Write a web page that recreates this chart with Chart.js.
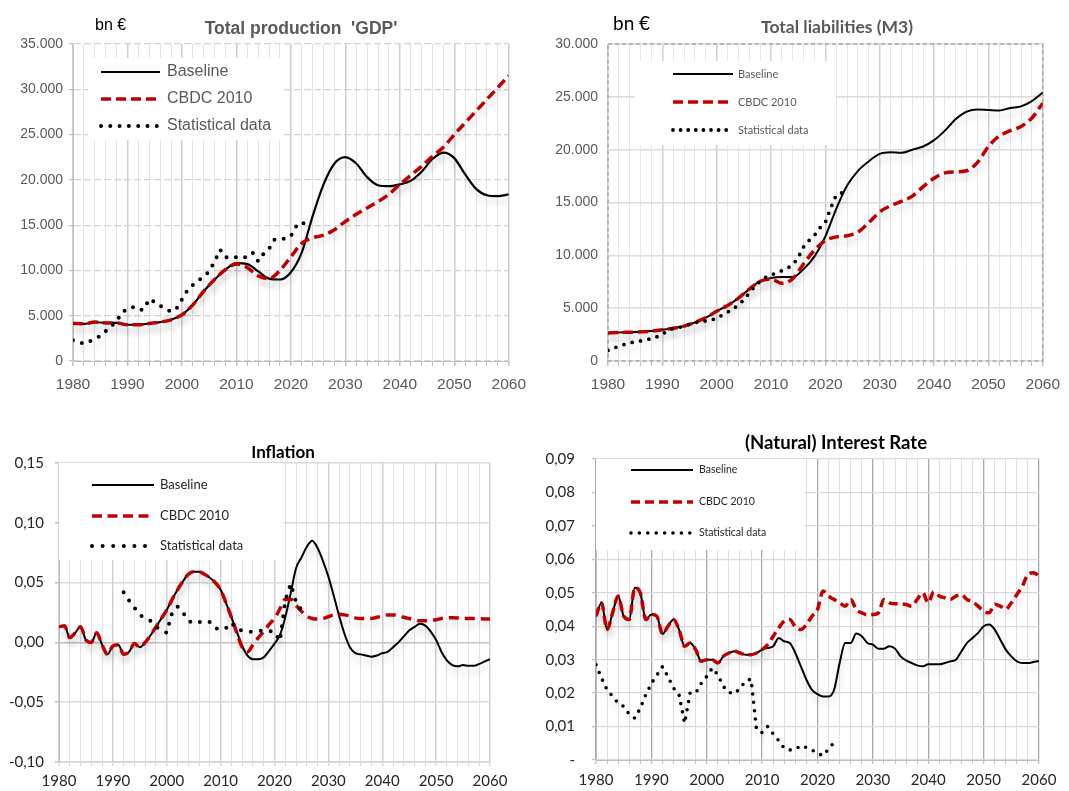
<!DOCTYPE html>
<html>
<head>
<meta charset="utf-8">
<title>CBDC scenarios</title>
<script src="https://cdn.jsdelivr.net/npm/chart.js@4.4.1/dist/chart.umd.min.js"></script>
<style>
  html, body { margin: 0; padding: 0; background: #fff; }
  body { position: relative; width: 1069px; height: 791px; overflow: hidden; }
  canvas { position: absolute; }
</style>
</head>
<body>
<canvas id="gdp" width="535" height="400" style="left:0;top:0"></canvas>
<canvas id="m3" width="534" height="400" style="left:535px;top:0"></canvas>
<canvas id="infl" width="535" height="361" style="left:0;top:430px"></canvas>
<canvas id="rate" width="534" height="361" style="left:535px;top:430px"></canvas>
<script>
function range(a, b, step) {
  const out = [];
  for (let v = a; v <= b; v += step) out.push(v);
  return out;
}

// x values for the model runs and the observed series
const yearsBy2 = range(1980, 2060, 2);
const yearsBy1 = range(1980, 2060, 1);

const seriesNames = ['Baseline', 'CBDC 2010', 'Statistical data'];

// Total production (GDP), bn €, every second year
const gdpBaseline = [4150, 4100, 4300, 4200, 4200, 4000, 4000, 4150, 4300, 4550,
  5100, 6200, 7700, 9000, 10100, 10800, 10700, 9900, 9100, 9000,
  9800, 12000, 16000, 19500, 21800, 22500, 21800, 20300, 19400, 19300,
  19500, 19900, 20900, 22300, 23000, 22400, 20600, 19000, 18300, 18200, 18400];
const gdpCbdc = [4150, 4100, 4300, 4200, 4200, 4000, 4000, 4150, 4300, 4550,
  5100, 6200, 7700, 9000, 10100, 10700, 10300, 9400, 9100, 10000,
  11500, 13000, 13600, 13900, 14500, 15400, 16200, 16900, 17600, 18400,
  19500, 20500, 21500, 22600, 23600, 25000, 26300, 27600, 28900, 30200, 31500];
const gdpStatYears = range(1980, 2023, 1);
const gdpStats = [2300, 2100, 1900, 2150, 2500, 2750, 3300, 3850, 4400, 5350,
  5800, 5950, 5620, 5700, 6840, 6500, 6100, 5700, 5450, 5800,
  6800, 7800, 8400, 8900, 9300, 9900, 11000, 12280, 11450, 11450,
  11470, 11400, 11500, 11950, 11000, 11850, 12400, 13400, 13500, 13500,
  13800, 14890, 14890, 15900];

// Total liabilities (M3), bn €, every second year
const m3Baseline = [2650, 2700, 2720, 2760, 2830, 2950, 3100, 3300, 3650, 4100,
  4700, 5250, 5950, 6800, 7550, 7850, 7950, 7950, 8700, 9900,
  11800, 14400, 16600, 18000, 18900, 19600, 19750, 19700, 20000, 20300,
  20900, 21800, 22900, 23600, 23800, 23750, 23700, 23950, 24100, 24600, 25400];
const m3Cbdc = [2650, 2700, 2720, 2760, 2830, 2950, 3100, 3300, 3650, 4100,
  4700, 5250, 5950, 6800, 7550, 7750, 7350, 7800, 9200, 10500,
  11400, 11750, 11850, 12200, 13100, 14100, 14700, 15100, 15600, 16500,
  17300, 17800, 17900, 18000, 18800, 20300, 21300, 21800, 22200, 23000, 24400];
const m3StatYears = range(1980, 2024, 1);
const m3Stats = [1000, 1200, 1400, 1560, 1700, 1830, 1900, 2000, 2120, 2300,
  2550, 2850, 3080, 3170, 3300, 3480, 3620, 3740, 3780, 3900,
  4020, 4350, 4620, 4920, 5300, 5800, 6450, 7050, 7550, 7900,
  8150, 8330, 8550, 8780, 9100, 9800, 10800, 11400, 11900, 12600,
  13130, 14500, 15700, 15900, 16100];

// Inflation, yearly
const inflBaseline = [0.013, 0.014, 0.004, 0.008, 0.013, 0.002, 0.000, 0.008, -0.002, -0.010,
  -0.003, -0.002, -0.010, -0.008, -0.001, -0.004, 0.000, 0.006, 0.013, 0.020,
  0.027, 0.036, 0.044, 0.051, 0.057, 0.059, 0.059, 0.057, 0.054, 0.050,
  0.044, 0.033, 0.021, 0.009, -0.003, -0.011, -0.014, -0.014, -0.0125, -0.007,
  -0.001, 0.006, 0.021, 0.041, 0.062, 0.071, 0.080, 0.085, 0.079, 0.068,
  0.055, 0.039, 0.022, 0.007, -0.004, -0.009, -0.010, -0.011, -0.012, -0.011,
  -0.009, -0.008, -0.004, 0.000, 0.005, 0.010, 0.013, 0.0155, 0.014, 0.009,
  0.002, -0.008, -0.015, -0.019, -0.020, -0.019, -0.0195, -0.0195, -0.018, -0.016,
  -0.014];
const inflCbdc = [0.013, 0.014, 0.004, 0.008, 0.013, 0.002, 0.000, 0.008, -0.002, -0.010,
  -0.003, -0.002, -0.010, -0.008, -0.001, -0.004, 0.000, 0.006, 0.013, 0.020,
  0.027, 0.036, 0.044, 0.051, 0.057, 0.059, 0.059, 0.057, 0.054, 0.050,
  0.044, 0.033, 0.021, 0.008, -0.004, -0.008, -0.002, 0.004, 0.009, 0.015,
  0.020, 0.028, 0.036, 0.036, 0.031, 0.026, 0.022, 0.020, 0.0195, 0.020,
  0.0215, 0.023, 0.0235, 0.023, 0.022, 0.0205, 0.020, 0.020, 0.020, 0.021,
  0.022, 0.023, 0.023, 0.0225, 0.021, 0.020, 0.019, 0.018, 0.018, 0.0185,
  0.019, 0.020, 0.0205, 0.0207, 0.0205, 0.020, 0.020, 0.020, 0.0198, 0.0196,
  0.0195];
const inflStatYears = range(1992, 2025, 1);
const inflStats = [0.042, 0.035, 0.029, 0.023, 0.020, 0.018, 0.013, 0.010, 0.008, 0.025,
  0.030, 0.025, 0.018, 0.016, 0.017, 0.018, 0.017, 0.012, 0.0105, 0.012,
  0.0165, 0.011, 0.010, 0.009, 0.009, 0.0095, 0.010, 0.0095, 0.009, 0.001,
  0.035, 0.049, 0.034, 0.027];

// (Natural) interest rate, yearly
const rateBaseline = [0.043, 0.047, 0.039, 0.044, 0.049, 0.043, 0.042, 0.0515, 0.050, 0.042,
  0.0435, 0.043, 0.0377, 0.040, 0.042, 0.039, 0.034, 0.035, 0.033, 0.0295,
  0.030, 0.030, 0.029, 0.031, 0.032, 0.0325, 0.032, 0.0315, 0.0315, 0.032,
  0.033, 0.0335, 0.034, 0.0365, 0.0355, 0.035, 0.032, 0.028, 0.024, 0.021,
  0.0197, 0.019, 0.019, 0.021, 0.029, 0.035, 0.035, 0.0378, 0.037, 0.035,
  0.0345, 0.0333, 0.0333, 0.034, 0.0333, 0.031, 0.0298, 0.029, 0.0283, 0.028,
  0.0286, 0.0286, 0.0286, 0.029, 0.0295, 0.030, 0.0325, 0.035, 0.0365, 0.038,
  0.040, 0.0405, 0.039, 0.036, 0.033, 0.031, 0.0295, 0.029, 0.029, 0.0293,
  0.0296];
const rateCbdc = [0.043, 0.047, 0.039, 0.044, 0.049, 0.043, 0.042, 0.0515, 0.050, 0.042,
  0.0435, 0.043, 0.0377, 0.040, 0.042, 0.039, 0.034, 0.035, 0.033, 0.0295,
  0.030, 0.030, 0.029, 0.031, 0.032, 0.0325, 0.032, 0.0315, 0.0315, 0.032,
  0.033, 0.0345, 0.037, 0.0395, 0.0415, 0.042, 0.0398, 0.039, 0.0405, 0.043,
  0.045, 0.0505, 0.049, 0.048, 0.047, 0.046, 0.048, 0.045, 0.044, 0.0434,
  0.0435, 0.044, 0.048, 0.047, 0.0467, 0.0467, 0.0465, 0.046, 0.048, 0.050,
  0.047, 0.0503, 0.049, 0.0485, 0.048, 0.049, 0.0494, 0.048, 0.0473, 0.046,
  0.0445, 0.044, 0.0466, 0.046, 0.0451, 0.047, 0.0495, 0.052, 0.0555, 0.056,
  0.055];
const rateStatYears = range(1980, 2023, 1);
const rateStats = [0.0285, 0.0245, 0.021, 0.019, 0.017, 0.016, 0.0137, 0.0125, 0.0155, 0.0195,
  0.0229, 0.0254, 0.0279, 0.0249, 0.0215, 0.0195, 0.011, 0.020, 0.020, 0.0229,
  0.025, 0.0275, 0.0255, 0.022, 0.0202, 0.0198, 0.0214, 0.0236, 0.0242, 0.009,
  0.0082, 0.0100, 0.0078, 0.0058, 0.0035, 0.0030, 0.0032, 0.0043, 0.0037, 0.0030,
  0.0020, 0.0013, 0.0033, 0.0053];

const red = '#c00000';
const narrow = "'Liberation Sans', Arial, sans-serif";
const calib = "Lato, 'Open Sans', sans-serif";

function pts(xs, ys) {
  return ys.map((y, i) => ({ x: xs[i], y: y }));
}

// white legend box with line samples, drawn over the grid
const boxLegend = {
  id: 'boxLegend',
  beforeDatasetsDraw(chart, args, o) {
    if (!o || !o.box) return;
    const ctx = chart.ctx;
    ctx.save();
    ctx.fillStyle = '#fff';
    ctx.fillRect(o.box[0], o.box[1], o.box[2], o.box[3]);
    chart.data.datasets.forEach((ds, i) => {
      const y = o.rows[i];
      ctx.beginPath();
      ctx.lineWidth = ds.borderWidth;
      ctx.strokeStyle = ds.borderColor;
      ctx.setLineDash(o.dashes[i]);
      ctx.lineCap = ds.borderCapStyle || 'butt';
      ctx.moveTo(o.x1, y);
      ctx.lineTo(o.x2, y);
      ctx.stroke();
      ctx.setLineDash([]);
      ctx.fillStyle = o.color;
      ctx.font = o.font;
      ctx.textAlign = 'left';
      ctx.textBaseline = 'middle';
      ctx.fillText(ds.label, o.textX, y);
    });
    ctx.restore();
  }
};

// titles and unit labels
const panelText = {
  id: 'panelText',
  afterDraw(chart, args, o) {
    if (!o || !o.items) return;
    const ctx = chart.ctx;
    ctx.save();
    o.items.forEach(t => {
      ctx.font = t.font;
      ctx.fillStyle = t.color;
      ctx.textAlign = t.align || 'center';
      ctx.textBaseline = 'middle';
      ctx.fillText(t.text, t.x, t.y);
    });
    ctx.restore();
  }
};

// dashed frame round the plot area
const frame = {
  id: 'frame',
  beforeDatasetsDraw(chart, args, o) {
    if (!o || !o.color) return;
    const a = chart.chartArea, ctx = chart.ctx;
    ctx.save();
    ctx.strokeStyle = o.color;
    ctx.lineWidth = o.width;
    ctx.setLineDash(o.dash);
    ctx.strokeRect(a.left, a.top, a.right - a.left, a.bottom - a.top);
    ctx.restore();
  }
};

// soft drop shadow under each series
const softShadow = {
  id: 'softShadow',
  beforeDatasetDraw(chart, args, o) {
    const ctx = chart.ctx;
    ctx.save();
    ctx.shadowColor = o.color || 'rgba(0,0,0,0.2)';
    ctx.shadowBlur = o.blur || 6;
    ctx.shadowOffsetX = o.dx || 0;
    ctx.shadowOffsetY = o.dy || 5;
  },
  afterDatasetDraw(chart) {
    chart.ctx.restore();
  }
};

Chart.register(boxLegend, panelText, frame, softShadow);

function datasets(xModel, base, cbdc, xStat, stats, w) {
  const common = { pointRadius: 0, pointHoverRadius: 0, fill: false };
  return [
    Object.assign({ label: seriesNames[0], data: pts(xModel, base), borderColor: '#000',
      borderWidth: w.base, cubicInterpolationMode: 'monotone', order: 2 }, common),
    Object.assign({ label: seriesNames[1], data: pts(xModel, cbdc), borderColor: red,
      borderWidth: w.red, borderDash: w.redDash, cubicInterpolationMode: 'monotone', order: 1 }, common),
    Object.assign({ label: seriesNames[2], data: pts(xStat, stats), borderColor: '#000',
      borderWidth: w.dot, borderDash: [0, w.gap], borderCapStyle: 'round', tension: 0, order: 0 }, common)
  ];
}

function xAxis(s) {
  return {
    type: 'linear', min: 1980, max: 2060,
    afterFit: scale => { scale.height = s.h; },
    ticks: {
      stepSize: 2, autoSkip: false, maxRotation: 0, minRotation: 0,
      padding: s.pad, color: s.color, font: s.font,
      callback: v => (v % 10 === 0 ? String(v) : '')
    },
    grid: {
      color: c => (c.tick && c.tick.value % 10 === 0 ? s.major : s.minor),
      lineWidth: c => (c.tick && c.tick.value % 10 === 0 ? s.majorWidth : 1),
      tickLength: s.tick, tickColor: s.tickColor
    },
    border: { display: s.border !== false, color: s.borderColor || '#bfbfbf', width: 1 }
  };
}

function yAxis(s) {
  return {
    min: s.min, max: s.max,
    afterFit: scale => { scale.width = s.w; },
    ticks: { stepSize: s.step, padding: s.pad, color: s.color, font: s.font, callback: s.fmt },
    grid: {
      color: s.gridColor, lineWidth: s.gridWidth || 1,
      tickLength: s.tick, tickColor: s.tickColor || '#bfbfbf'
    },
    border: { display: s.border !== false, color: '#bfbfbf', width: 1, dash: s.dash || [] }
  };
}

function makeChart(id, cfg) {
  return new Chart(document.getElementById(id), {
    type: 'line',
    data: { datasets: cfg.datasets },
    options: {
      responsive: false, animation: false, events: [],
      layout: { padding: cfg.padding },
      plugins: {
        legend: { display: false },
        tooltip: { enabled: false },
        boxLegend: cfg.legend,
        panelText: { items: cfg.texts },
        frame: cfg.frame || {},
        softShadow: { color: 'rgba(0,0,0,0.17)', blur: 7, dx: 1, dy: 6 }
      },
      scales: { x: cfg.x, y: cfg.y }
    }
  });
}

const thousands = v => (v === 0 ? '0' : (v / 1000).toFixed(3));
const comma2 = v => (Math.abs(v) < 1e-9 ? '0,00' : v.toFixed(2).replace('.', ','));
const rateFmt = v => (Math.abs(v) < 1e-9 ? '-' : v.toFixed(2).replace('.', ','));

// --- Total production 'GDP' ---
makeChart('gdp', {
  datasets: datasets(yearsBy2, gdpBaseline, gdpCbdc, gdpStatYears, gdpStats,
    { base: 2.2, red: 3.5, redDash: [10, 5], dot: 4, gap: 9.3 }),
  padding: { left: 0, top: 44, right: 22, bottom: 9 },
  x: xAxis({ h: 30, pad: 9, tick: 5, color: '#595959', font: { family: narrow, size: 15.5 },
    major: '#cdcdcd', minor: '#e4e4e4', majorWidth: 1.5, tickColor: '#bfbfbf' }),
  y: yAxis({ min: 0, max: 35000, step: 5000, w: 73, pad: 6, tick: 4, color: '#595959',
    font: { family: narrow, size: 14 }, fmt: thousands, gridColor: '#d4d4d4', gridWidth: 1.2, dash: [7, 3] }),
  legend: { box: [88, 58, 193, 82], rows: [72, 99, 126], x1: 101, x2: 160, textX: 167,
    dashes: [[], [10, 5], [0, 9.3]], font: '16px ' + narrow, color: '#595959' },
  texts: [
    { text: "Total production  'GDP'", x: 301, y: 29, font: 'bold 17.5px ' + narrow, color: '#595959' },
    { text: 'bn €', x: 95, y: 26, align: 'left', font: '16px ' + narrow, color: '#000' }
  ]
});

// --- Total liabilities (M3) ---
makeChart('m3', {
  datasets: datasets(yearsBy2, m3Baseline, m3Cbdc, m3StatYears, m3Stats,
    { base: 2, red: 3.5, redDash: [10, 5], dot: 3.8, gap: 8.5 }),
  padding: { left: 0, top: 44, right: 17, bottom: 9 },
  x: xAxis({ h: 30, pad: 9, tick: 5, color: '#595959', font: { family: narrow, size: 15.5 },
    major: '#d0d0d0', minor: '#e6e6e6', majorWidth: 1.5, tickColor: '#bfbfbf', border: false }),
  y: yAxis({ min: 0, max: 30000, step: 5000, w: 73, pad: 10, tick: 0, color: '#595959',
    font: { family: narrow, size: 14 }, fmt: thousands, gridColor: '#dcdcdc', gridWidth: 1.5, border: false }),
  frame: { color: '#a6a6a6', width: 1.5, dash: [4, 3] },
  legend: { box: [100, 61, 201, 84], rows: [74, 102, 130], x1: 138, x2: 198, textX: 203,
    dashes: [[], [10, 5], [0, 7.6]], font: '11px ' + calib, color: '#595959' },
  texts: [
    { text: 'Total liabilities (M3)', x: 302, y: 27, font: 'bold 17.5px ' + calib, color: '#595959' },
    { text: 'bn €', x: 78, y: 24, align: 'left', font: '19px ' + calib, color: '#000' }
  ]
});

// --- Inflation ---
makeChart('infl', {
  datasets: datasets(yearsBy1, inflBaseline, inflCbdc, inflStatYears, inflStats,
    { base: 2, red: 3.5, redDash: [10, 6], dot: 4, gap: 10 }),
  padding: { left: 0, top: 33, right: 45, bottom: 4 },
  x: xAxis({ h: 25, pad: 6, tick: 4, color: '#262626', font: { family: calib, size: 15 },
    major: '#cfcfcf', minor: '#e2e2e2', majorWidth: 1.5, tickColor: '#d9d9d9', borderColor: '#d9d9d9' }),
  y: yAxis({ min: -0.10, max: 0.15, step: 0.05, w: 59, pad: 11, tick: 4, color: '#262626',
    font: { family: calib, size: 15 }, fmt: comma2,
    gridColor: c => (c.tick && Math.abs(c.tick.value) < 1e-9 ? '#c4c4c4' : '#dadada'), gridWidth: 1.5 }),
  legend: { box: [59, 33, 224, 97], rows: [55, 86, 116], x1: 92, x2: 154, textX: 160,
    dashes: [[], [10, 5.5], [0, 10.6]], font: '13px ' + calib, color: '#262626' },
  texts: [
    { text: 'Inflation', x: 283, y: 23, font: 'bold 17px ' + calib, color: '#000' }
  ]
});

// --- (Natural) Interest Rate ---
makeChart('rate', {
  datasets: datasets(yearsBy1, rateBaseline, rateCbdc, rateStatYears, rateStats,
    { base: 2, red: 3.5, redDash: [9, 5], dot: 3.6, gap: 8.4 }),
  padding: { left: 0, top: 29, right: 30, bottom: 6 },
  x: xAxis({ h: 25, pad: 7, tick: 4, color: '#262626', font: { family: calib, size: 15 },
    major: '#a9a9a9', minor: '#e0e0e0', majorWidth: 1.3, tickColor: '#bfbfbf' }),
  y: yAxis({ min: 0, max: 0.09, step: 0.01, w: 61, pad: 17, tick: 4, color: '#262626',
    font: { family: calib, size: 15 }, fmt: rateFmt, gridColor: '#d9d9d9', gridWidth: 1.3 }),
  legend: { box: [61, 29, 208, 91], rows: [40, 72, 103], x1: 96, x2: 158, textX: 164,
    dashes: [[], [9, 5], [0, 8.4]], font: '10.5px ' + calib, color: '#262626' },
  texts: [
    { text: '(Natural) Interest Rate', x: 301, y: 13, font: 'bold 18.5px ' + calib, color: '#000' }
  ]
});
</script>
</body>
</html>
